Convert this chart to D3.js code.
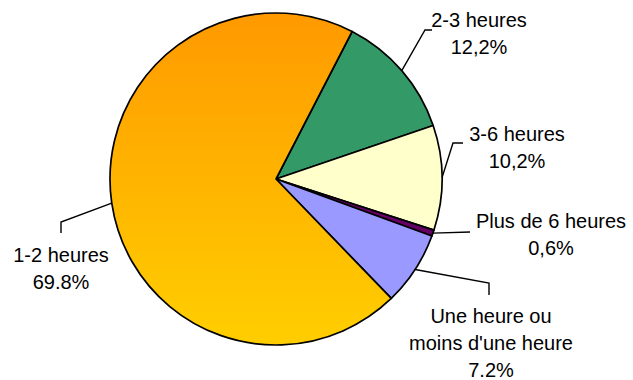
<!DOCTYPE html>
<html>
<head>
<meta charset="utf-8">
<script src="https://cdn.jsdelivr.net/npm/d3@7"></script>
<style>
  html, body { margin: 0; padding: 0; background: #fff; }
  svg { display: block; }
  text { font-family: Arial, "Liberation Sans", sans-serif; font-size: 20px; fill: #000; }
</style>
</head>
<body>
<svg id="chart" width="633" height="380"></svg>
<script>
// Time spent, share of respondents (percent), clockwise from the 2-3 h slice
const categories = ["2-3 heures", "3-6 heures", "Plus de 6 heures", "Une heure ou moins d'une heure", "1-2 heures"];
const values = [12.2, 10.2, 0.6, 7.2, 69.8];
const valueLabels = ["12,2%", "10,2%", "0,6%", "7.2%", "69.8%"];
// label text lines drawn above the percentage
const labelLines = [
  ["2-3 heures"],
  ["3-6 heures"],
  ["Plus de 6 heures"],
  ["Une heure ou", "moins d'une heure"],
  ["1-2 heures"]
];
const colors = ["#339966", "#FFFFCC", "#660066", "#9999FF", "url(#orangeGrad)"];

// layout
const cx = 276, cy = 179, R = 166;
const startDeg = 27.3;
// label block centre x and first baseline y, plus leader elbow points
const labelPos = [
  { x: 479, y: 27 },
  { x: 517, y: 141 },
  { x: 551, y: 228 },
  { x: 491, y: 323 },
  { x: 61,  y: 262 }
];
const elbows = [
  [[425, 30], [432, 30]],
  [[453, 143], [463, 143]],
  [[470, 232]],
  [[489, 283], [489, 295]],
  [[61, 222], [61, 233]]
];
const lineH = 27;

const svg = d3.select("#chart");
const defs = svg.append("defs");
// gradient coordinates are in the pie group's (centred) coordinate system
const grad = defs.append("linearGradient")
  .attr("id", "orangeGrad")
  .attr("gradientUnits", "userSpaceOnUse")
  .attr("x1", 0).attr("y1", -R)
  .attr("x2", 0).attr("y2", R - 18);
grad.append("stop").attr("offset", "0%").attr("stop-color", "#FF9900");
grad.append("stop").attr("offset", "100%").attr("stop-color", "#FFCC00");

const start = startDeg * Math.PI / 180;
const pie = d3.pie().sort(null).value(d => d)
  .startAngle(start).endAngle(start + 2 * Math.PI);
const arcs = pie(values);
const arc = d3.arc().innerRadius(0).outerRadius(R);

const g = svg.append("g").attr("transform", `translate(${cx},${cy})`);
g.selectAll("path.slice")
  .data(arcs)
  .join("path")
  .attr("class", "slice")
  .attr("d", arc)
  .attr("fill", (d, i) => colors[i])
  .attr("stroke", "#000")
  .attr("stroke-width", 1.7)
  .attr("stroke-linejoin", "round");

// leader lines from the slice edge midpoint
const edge = d3.arc().innerRadius(R).outerRadius(R);
arcs.forEach((d, i) => {
  const [ex, ey] = edge.centroid(d);
  const pts = [[cx + ex, cy + ey], ...elbows[i]];
  svg.append("path")
    .attr("d", d3.line()(pts))
    .attr("fill", "none")
    .attr("stroke", "#000")
    .attr("stroke-width", 1.4);
});

// labels
arcs.forEach((d, i) => {
  const lines = [...labelLines[i], valueLabels[i]];
  const t = svg.append("text")
    .attr("text-anchor", "middle");
  lines.forEach((s, k) => {
    t.append("tspan")
      .attr("x", labelPos[i].x)
      .attr("y", labelPos[i].y + k * lineH)
      .text(s);
  });
});
</script>
</body>
</html>
